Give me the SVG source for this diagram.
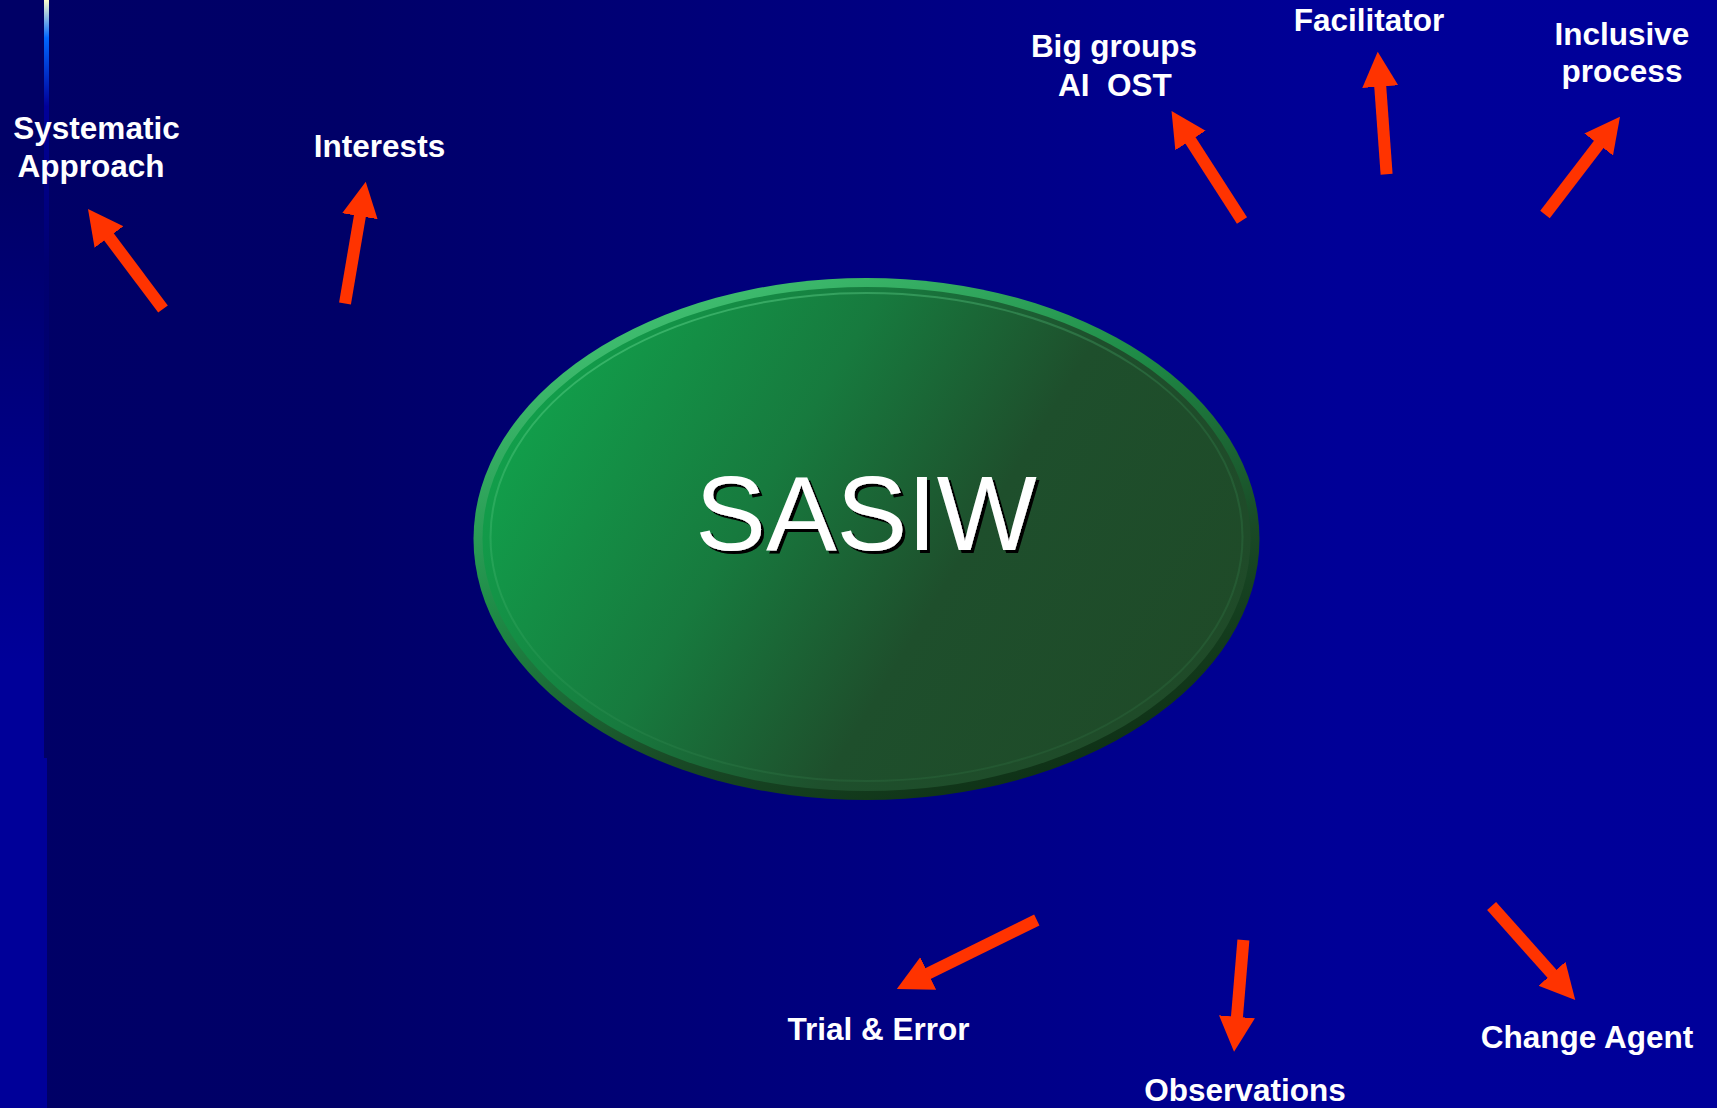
<svg xmlns="http://www.w3.org/2000/svg" width="1717" height="1108" viewBox="0 0 1717 1108">
  <defs>
    <linearGradient id="bg" x1="0" y1="0" x2="1" y2="0">
      <stop offset="0" stop-color="#000066"/>
      <stop offset="0.2" stop-color="#000068"/>
      <stop offset="0.78" stop-color="#000097"/>
      <stop offset="1" stop-color="#00009A"/>
    </linearGradient>
    <linearGradient id="strip" x1="0" y1="0" x2="0" y2="1">
      <stop offset="0" stop-color="#000066"/>
      <stop offset="0.15" stop-color="#000066"/>
      <stop offset="0.6" stop-color="#000099"/>
      <stop offset="1" stop-color="#000099"/>
    </linearGradient>
    <linearGradient id="vline" x1="0" y1="0" x2="0" y2="760" gradientUnits="userSpaceOnUse">
      <stop offset="0" stop-color="#FFFFCC"/>
      <stop offset="0.05" stop-color="#0066FF"/>
      <stop offset="0.14" stop-color="#000099"/>
      <stop offset="0.35" stop-color="#000070"/>
      <stop offset="1" stop-color="#000066"/>
    </linearGradient>
    <linearGradient id="face" x1="0" y1="0.3" x2="1" y2="0.7">
      <stop offset="0" stop-color="#11A24C"/>
      <stop offset="0.35" stop-color="#177A3E"/>
      <stop offset="0.62" stop-color="#1E4F2C"/>
      <stop offset="1" stop-color="#1F4A28"/>
    </linearGradient>
    <linearGradient id="rim" x1="0.2" y1="0" x2="0.8" y2="1">
      <stop offset="0" stop-color="#45C777"/>
      <stop offset="0.4" stop-color="#1E8A46"/>
      <stop offset="0.7" stop-color="#194A26"/>
      <stop offset="1" stop-color="#0C2A12"/>
    </linearGradient>
    <linearGradient id="ring" x1="0.2" y1="0" x2="0.8" y2="1">
      <stop offset="0" stop-color="#6FE39A" stop-opacity="0.45"/>
      <stop offset="0.5" stop-color="#3FA865" stop-opacity="0.2"/>
      <stop offset="1" stop-color="#2E6A3E" stop-opacity="0.3"/>
    </linearGradient>
    <filter id="shadow" x="-5%" y="-10%" width="115%" height="125%">
      <feDropShadow dx="3" dy="3" stdDeviation="0" flood-color="#000000" flood-opacity="1"/>
    </filter>
    <marker id="head" markerUnits="userSpaceOnUse" markerWidth="40" markerHeight="40" viewBox="0 -20 40 40" refX="2" refY="0" orient="auto">
      <path d="M0,-18 L35,0 L0,18 Z" fill="#FF3300"/>
    </marker>
  </defs>
  <style>
    .lbl { font-family: "Liberation Sans", Arial, sans-serif; font-weight: bold; font-size: 31.5px; fill: #FFFFFF; text-anchor: middle; }
    .arr { stroke: #FF3300; stroke-width: 12; fill: none; marker-end: url(#head); }
    .big { font-family: "Liberation Sans", Arial, sans-serif; font-size: 106px; text-anchor: middle; fill: #FFFFFF; }
  </style>

  <rect x="0" y="0" width="1717" height="1108" fill="url(#bg)"/>
  <rect x="0" y="0" width="44" height="1108" fill="url(#strip)"/>
  <rect x="44" y="0" width="5" height="758" fill="url(#vline)"/>
  <rect x="44" y="758" width="3" height="350" fill="#000099"/>

  <g id="sasiw">
    <ellipse cx="866.5" cy="539" rx="393" ry="261" fill="url(#rim)"/>
    <ellipse cx="866.5" cy="539" rx="384" ry="252" fill="url(#face)"/>
    <ellipse cx="866.5" cy="537" rx="376" ry="244" fill="none" stroke="url(#ring)" stroke-width="2"/>
    <text class="big" x="866" y="550" filter="url(#shadow)">SASIW</text>
  </g>

  <g id="connectors">
    <line class="arr" x1="163" y1="309" x2="107.8" y2="235.4"/>
    <line class="arr" x1="345" y1="303.5" x2="360.2" y2="214.2"/>
    <line class="arr" x1="1242" y1="220.5" x2="1189.4" y2="138.8"/>
    <line class="arr" x1="1386.6" y1="174.3" x2="1380.1" y2="84.6"/>
    <line class="arr" x1="1545" y1="214.5" x2="1599.9" y2="142.9"/>
    <line class="arr" x1="1036.8" y1="920" x2="926.4" y2="974.4"/>
    <line class="arr" x1="1243.4" y1="940" x2="1236.8" y2="1018.8"/>
    <line class="arr" x1="1491.6" y1="906" x2="1553.3" y2="975.3"/>
  </g>

  <g id="systematic-approach">
    <text class="lbl" x="96.5" y="139">Systematic</text>
    <text class="lbl" x="91" y="177">Approach</text>
  </g>
  <g id="interests">
    <text class="lbl" x="379.5" y="157">Interests</text>
  </g>
  <g id="big-groups">
    <text class="lbl" x="1114" y="57">Big groups</text>
    <text class="lbl" x="1115" y="96" xml:space="preserve">AI  OST</text>
  </g>
  <g id="facilitator">
    <text class="lbl" x="1369" y="31">Facilitator</text>
  </g>
  <g id="inclusive-process">
    <text class="lbl" x="1622" y="45">Inclusive</text>
    <text class="lbl" x="1622" y="82">process</text>
  </g>
  <g id="trial-error">
    <text class="lbl" x="878.5" y="1040">Trial &amp; Error</text>
  </g>
  <g id="observations">
    <text class="lbl" x="1245" y="1100.5">Observations</text>
  </g>
  <g id="change-agent">
    <text class="lbl" x="1587" y="1048">Change Agent</text>
  </g>
</svg>
